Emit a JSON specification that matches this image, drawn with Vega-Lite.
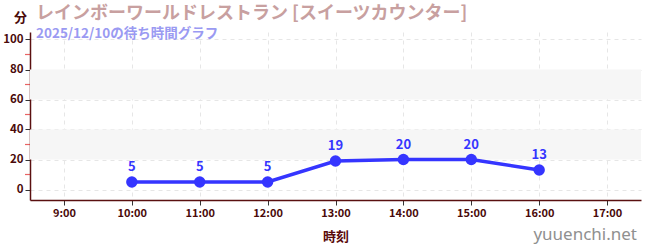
{
  "$schema": "https://vega.github.io/schema/vega-lite/v6.json",
  "autosize": "none",
  "width": 611,
  "height": 168,
  "padding": {"left": 30, "top": 32, "right": 9, "bottom": 50},
  "background": "white",
  "config": {
    "font": "Noto Sans CJK JP",
    "view": {"stroke": null},
    "axis": {"labelOverlap": false, "labelFlush": false, "labelBound": false}
  },
  "title": {
    "text": "レインボーワールドレストラン [スイーツカウンター]",
    "subtitle": "2025/12/10の待ち時間グラフ",
    "anchor": "start",
    "frame": "group",
    "dx": 6,
    "offset": -29,
    "font": "Noto Sans CJK JP",
    "fontSize": 18,
    "fontWeight": "bold",
    "color": "#c8a0a0",
    "subtitleFont": "Noto Sans CJK JP",
    "subtitleFontSize": 13.5,
    "subtitleFontWeight": "bold",
    "subtitleColor": "#9a9af2",
    "subtitlePadding": 4
  },
  "datasets": {
    "waits": [
      {"hour": 10, "wait": 5},
      {"hour": 11, "wait": 5},
      {"hour": 12, "wait": 5},
      {"hour": 13, "wait": 19},
      {"hour": 14, "wait": 20},
      {"hour": 15, "wait": 20},
      {"hour": 16, "wait": 13}
    ],
    "bands": [
      {"lo": 20, "hi": 40},
      {"lo": 60, "hi": 80}
    ],
    "minor": [
      {"v": 10}, {"v": 30}, {"v": 50}, {"v": 70}, {"v": 90}
    ],
    "mark": [
      {"label": "yuuenchi.net"}
    ]
  },
  "encoding": {
    "x": {
      "type": "quantitative",
      "scale": {"domain": [8.5, 17.5], "nice": false, "zero": false},
      "axis": {
        "title": "時刻",
        "titleFontSize": 13,
        "titleFontWeight": "bold",
        "titleColor": "#5a0a0a",
        "titlePadding": 12,
        "values": [9, 10, 11, 12, 13, 14, 15, 16, 17],
        "labelExpr": "datum.value + ':00'",
        "labelFontSize": 11,
        "labelColor": "#4a0a0a",
        "labelFontWeight": "bold",
        "domainColor": "#5a1010",
        "domainWidth": 1.5,
        "tickColor": "#333333",
        "tickSize": 5,
        "grid": true,
        "gridColor": "#e6e6e6",
        "gridDash": [4, 4]
      }
    },
    "y": {
      "type": "quantitative",
      "scale": {"domain": [-7, 105], "nice": false, "zero": false},
      "axis": {
        "title": "分",
        "titleAngle": 0,
        "titleAlign": "center",
        "titleBaseline": "middle",
        "titleX": -10,
        "titleY": -15,
        "titleFontSize": 13,
        "titleFontWeight": "bold",
        "titleColor": "#4a0a0a",
        "values": [0, 20, 40, 60, 80, 100],
        "labelFontSize": 11.5,
        "labelColor": "#4a0a0a",
        "labelFontWeight": "bold",
        "domainColor": "#5a1010",
        "domainWidth": 1.5,
        "tickColor": "#333333",
        "tickSize": 5,
        "grid": true,
        "gridColor": "#e6e6e6",
        "gridDash": [4, 4]
      }
    }
  },
  "layer": [
    {
      "data": {"name": "bands"},
      "mark": {"type": "rect", "color": "#f6f6f6"},
      "encoding": {
        "x": {"datum": 8.5, "type": "quantitative"},
        "x2": {"datum": 17.5},
        "y": {"field": "lo", "type": "quantitative"},
        "y2": {"field": "hi"}
      }
    },
    {
      "data": {"name": "minor"},
      "mark": {"type": "tick", "orient": "horizontal", "color": "#dd2222", "size": 5, "thickness": 1.2, "xOffset": -2.5, "clip": false},
      "encoding": {
        "x": {"datum": 8.5, "type": "quantitative"},
        "y": {"field": "v", "type": "quantitative"}
      }
    },
    {
      "data": {"name": "waits"},
      "mark": {"type": "line", "color": "#3535ff", "strokeWidth": 3.5},
      "encoding": {
        "x": {"field": "hour", "type": "quantitative"},
        "y": {"field": "wait", "type": "quantitative"}
      }
    },
    {
      "data": {"name": "waits"},
      "mark": {"type": "point", "filled": true, "color": "#3535ff", "size": 130, "opacity": 1},
      "encoding": {
        "x": {"field": "hour", "type": "quantitative"},
        "y": {"field": "wait", "type": "quantitative"}
      }
    },
    {
      "data": {"name": "waits"},
      "mark": {"type": "text", "color": "#3535ff", "fontSize": 13, "fontWeight": "bold", "dy": -15, "baseline": "middle"},
      "encoding": {
        "x": {"field": "hour", "type": "quantitative"},
        "y": {"field": "wait", "type": "quantitative"},
        "text": {"field": "wait", "type": "quantitative"}
      }
    },
    {
      "data": {"name": "mark"},
      "mark": {"type": "text", "color": "#909090", "fontSize": 17, "font": "Noto Sans", "align": "right", "baseline": "middle", "dy": 35, "dx": -4},
      "encoding": {
        "x": {"datum": 17.5, "type": "quantitative"},
        "y": {"datum": -7, "type": "quantitative"},
        "text": {"field": "label", "type": "nominal"}
      }
    }
  ]
}
